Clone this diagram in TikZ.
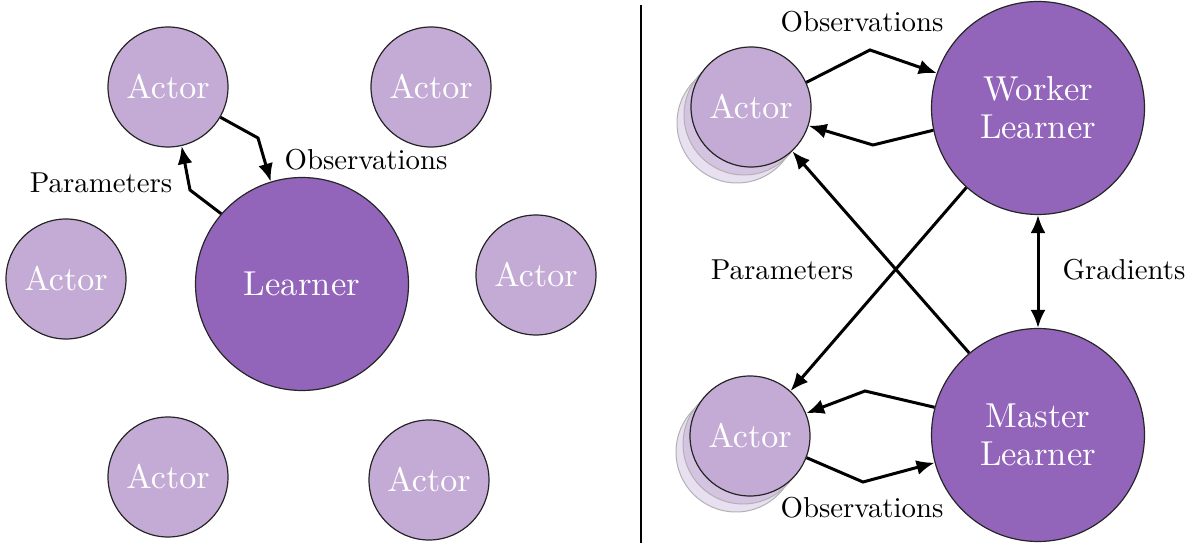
\documentclass[tikz,border=0pt]{standalone}
\usepackage{fontspec}
\setmainfont{lmroman10}[Extension=.otf,UprightFont=*-regular,BoldFont=*-bold,ItalicFont=*-italic]
\usetikzlibrary{arrows.meta}
\definecolor{actorfill}{HTML}{C3ABD5}
\definecolor{learnfill}{HTML}{9264BA}
\definecolor{back1}{HTML}{D4C3E1}
\definecolor{back2}{HTML}{E8DFF0}
\begin{document}
\begin{tikzpicture}[x=0.5pt,y=-0.5pt,
  actor/.style={circle,draw=black!85,line width=0.6pt,fill=actorfill,minimum size=60pt,inner sep=0pt,text=white,font=\fontsize{17}{19}\selectfont},
  ghost/.style={circle,draw=black!30,line width=0.5pt,minimum size=60pt,inner sep=0pt},
  learner/.style={circle,draw=black!85,line width=0.6pt,fill=learnfill,minimum size=106.5pt,inner sep=0pt,text=white,align=center,font=\fontsize{17.3}{19}\selectfont},
  conn/.style={line width=1.5pt,-{Latex[length=9pt,width=7.5pt]}},
  dconn/.style={line width=1.5pt,{Latex[length=9pt,width=7.5pt]}-{Latex[length=9pt,width=7.5pt]}},
  lbl/.style={font=\fontsize{14.4}{16}\selectfont,inner sep=0pt}]
\useasboundingbox (0,0) rectangle (1199,549);
% divider
\draw[line width=0.9pt] (641,5) -- (641,543);
% ---------- left panel ----------
\node[actor] (a1) at (168,87) {Actor};
\node[actor] (a2) at (431,87) {Actor};
\node[actor] (a3) at (66,279) {Actor};
\node[actor] (a4) at (536,275) {Actor};
\node[actor] (a5) at (168,477) {Actor};
\node[actor] (a6) at (429,480) {Actor};
\node[learner] (L) at (302,284) {Learner};
\coordinate (k1) at (258,138);
\coordinate (k2) at (190,190);
\draw[conn] (a1.-30) -- (k1) -- (L.107);
\draw[conn] (L.139) -- (k2) -- (a1.-77);
\node[lbl] (lo) at (366,160) {Observations};
\node[lbl] (lp) at (101,183) {Parameters};
% ---------- right panel ----------
\node[ghost,fill=back2] (g1b) at (737,123) {};
\node[ghost,fill=back1] (g1a) at (744,115) {};
\node[actor] (b1) at (751,107) {Actor};
\node[ghost,fill=back2] (g2b) at (736,452) {};
\node[ghost,fill=back1] (g2a) at (743,444) {};
\node[actor] (b2) at (750,436) {Actor};
\node[learner] (W) at (1038,108) {Worker\\Learner};
\node[learner] (M) at (1038,435) {Master\\Learner};
\coordinate (k3) at (870,50);
\coordinate (k4) at (873,145);
\coordinate (k5) at (865,391);
\coordinate (k6) at (863,482);
\draw[conn] (b1.24) -- (k3) -- (W.161);
\draw[conn] (W.192) -- (k4) -- (b1.-18);
\draw[conn] (M.165) -- (k5) -- (b2.22);
\draw[conn] (b2.-21) -- (k6) -- (M.195);
\draw[conn] (W.228) -- (b2.48);
\draw[conn] (M.130) -- (b1.-47);
\draw[dconn] (W.south) -- (M.north);
\node[lbl] (ro1) at (862,22) {Observations};
\node[lbl] (ro2) at (862,508) {Observations};
\node[lbl] (rp) at (782,270) {Parameters};
\node[lbl] (rg) at (1124,270) {Gradients};
\end{tikzpicture}
\end{document}
